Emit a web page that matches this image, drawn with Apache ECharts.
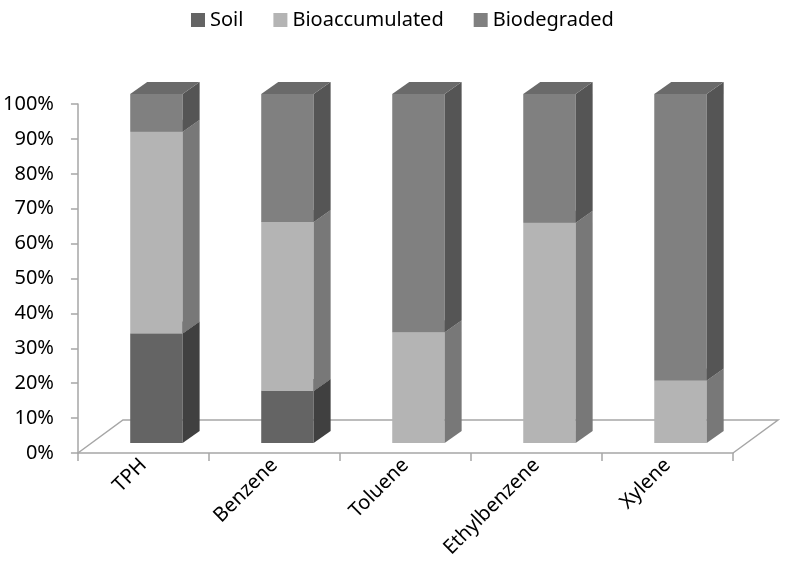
<!DOCTYPE html>
<html><head><meta charset="utf-8">
<script src="https://cdn.jsdelivr.net/npm/echarts@6/dist/echarts.min.js"></script>
<style>html,body{margin:0;padding:0;background:#fff}#c{width:786px;height:577px}</style>
</head><body><div id="c"></div>
<script>
const categories = ['TPH', 'Benzene', 'Toluene', 'Ethylbenzene', 'Xylene'];
const soil = [31.4, 14.9, 0, 0, 0];
const bioaccumulated = [57.8, 48.4, 31.7, 63.1, 17.9];
const biodegraded = [10.8, 36.7, 68.3, 36.9, 82.1];
const seriesNames = ['Soil', 'Bioaccumulated', 'Biodegraded'];
const frontColors = ['#646464', '#b4b4b4', '#808080'];
const sideColors = ['#404040', '#787878', '#555555'];
const topColors = ['#555555', '#9a9a9a', '#6a6a6a'];

const valueLists = [soil, bioaccumulated, biodegraded];
const DX = 17, DY = -12, OY = -10;

function makeRender(k) {
  return function (params, api) {
    const i = api.value(0), b = api.value(1), t = api.value(2);
    if (t - b <= 0) return;
    const bw = api.size([1, 0])[0];
    const pb = api.coord([i, b]), pt = api.coord([i, t]);
    const xl = pb[0] - bw * 0.101, xr = xl + bw * 0.4;
    const yb = pb[1] + OY, yt = pt[1] + OY;
    return {
      type: 'group',
      children: [
        { type: 'polygon', shape: { points: [[xl, yb], [xr, yb], [xr, yt], [xl, yt]] }, style: { fill: frontColors[k] } },
        { type: 'polygon', shape: { points: [[xr, yb], [xr + DX, yb + DY], [xr + DX, yt + DY], [xr, yt]] }, style: { fill: sideColors[k] } },
        { type: 'polygon', shape: { points: [[xl, yt], [xr, yt], [xr + DX, yt + DY], [xl + DX, yt + DY]] }, style: { fill: topColors[k] } }
      ]
    };
  };
}

const series = [{
  type: 'custom', name: 'floor', silent: true, clip: false, z: 1,
  data: [[0, 0]],
  renderItem: function (params, api) {
    const cs = params.coordSys;
    const x = cs.x, w = cs.width, yb = cs.y + cs.height;
    return {
      type: 'polyline',
      shape: { points: [[x, yb], [x + 45, yb - 33], [x + w + 45, yb - 33], [x + w, yb]] },
      style: { stroke: '#a6a6a6', lineWidth: 1.5, fill: null }
    };
  }
}];

valueLists.forEach(function (vals, k) {
  const data = categories.map(function (c, i) {
    let base = 0;
    for (let j = 0; j < k; j++) base += valueLists[j][i];
    return [i, base, base + vals[i]];
  });
  series.push({
    type: 'custom', name: seriesNames[k], clip: false, z: 2 + k,
    itemStyle: { color: frontColors[k] },
    encode: { x: 0, y: [1, 2] },
    data: data,
    renderItem: makeRender(k)
  });
});

const chart = echarts.init(document.getElementById('c'), null, { renderer: 'canvas' });
chart.setOption({
  animation: false,
  backgroundColor: '#fff',
  textStyle: { fontFamily: 'Noto Sans' },
  legend: {
    data: seriesNames, top: 5, left: 186, icon: 'rect',
    itemWidth: 14, itemHeight: 14, itemGap: 30,
    textStyle: { fontSize: 20, color: '#000', fontFamily: 'Noto Sans' }
  },
  grid: { left: 77, right: 53, top: 104, bottom: 124, containLabel: false },
  xAxis: {
    type: 'category', data: categories, boundaryGap: true,
    axisLine: { lineStyle: { color: '#a6a6a6', width: 1.5 } },
    axisTick: { show: true, length: 8, lineStyle: { color: '#a6a6a6', width: 1.5 } },
    axisLabel: { rotate: 45, interval: 0, fontSize: 20, color: '#000', margin: 9, fontFamily: 'Noto Sans' },
    splitLine: { show: false }
  },
  yAxis: {
    type: 'value', min: 0, max: 100, interval: 10,
    axisLine: { show: true, lineStyle: { color: '#a6a6a6', width: 1.5 } },
    axisTick: { show: true, length: 7, lineStyle: { color: '#a6a6a6', width: 1.5 } },
    axisLabel: { formatter: '{value}%', fontSize: 20, color: '#000', margin: 24, fontFamily: 'Noto Sans' },
    splitLine: { show: false }
  },
  series: series
});
</script></body></html>
